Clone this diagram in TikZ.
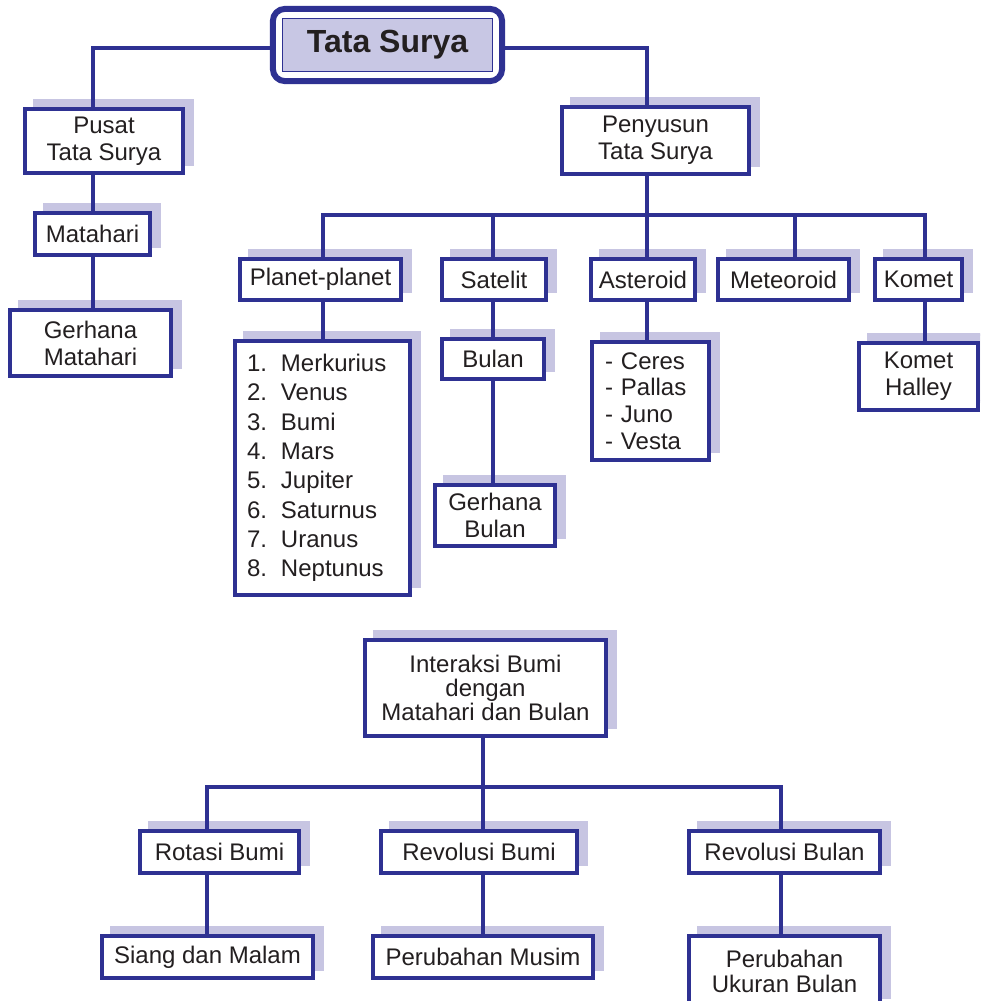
\documentclass[tikz,border=0pt]{standalone}
\usepackage{fontspec}
\setmainfont{Liberation Sans}
\usetikzlibrary{shadows,fit}
\definecolor{navy}{HTML}{2E3192}
\definecolor{shade}{HTML}{C7C5E2}
\definecolor{titlefill}{HTML}{C8C7E4}
\definecolor{ink}{HTML}{231F20}
\tikzset{
  box/.style={draw=navy, line width=4pt, fill=white, text=ink, inner sep=0pt,
    align=center, font=\fontsize{24}{27}\selectfont,
    general shadow={fill=shade, draw=shade, line width=3pt, shadow xshift=9pt, shadow yshift=9pt}},
  conn/.style={draw=navy, line width=4pt},
}
\newcommand\bxat[7][]{\node[box,#1,minimum width={#5-#3-4},minimum height={#6-#4-4}] (#2) at ({(#3+#5)/2},{(#4+#6)/2}) {#7};}
\newcommand\nm[1]{\makebox[34pt][l]{#1}}
\begin{document}
\begin{tikzpicture}[x=1pt,y=-1pt]
\useasboundingbox (0,0) rectangle (980,1001);
\clip (0,0) rectangle (980,1001);
% line positions
\coordinate (cL) at (93,0);
\coordinate (cPl) at (323,0);
\coordinate (cS) at (493,0);
\coordinate (cM) at (795,0);
\coordinate (cK) at (925,0);
\coordinate (cR) at (207,0);
\coordinate (cRB) at (781,0);
\coordinate (bus1) at (647,215);
\coordinate (bus2) at (483,787);
% title
\node[fill=titlefill, draw=navy, line width=1.2pt, minimum width=210, minimum height=53,
  inner sep=0pt, font=\fontsize{32}{36}\selectfont\bfseries, text=ink] (title) at (387.5,45) {Tata Surya};
\node[draw=navy, line width=6pt, rounded corners=12pt, fit=(title), inner sep=9pt] (frame) {};
% boxes
\bxat{pusat}{23}{107}{185}{175}{Pusat\\Tata Surya}
\bxat{matahari}{33}{211}{152}{257}{Matahari}
\bxat{gmat}{8}{308}{173}{378}{Gerhana\\Matahari}
\bxat{penyusun}{560}{105}{751}{176}{Penyusun\\Tata Surya}
\bxat{planet}{238}{257}{403}{302}{Planet-planet}
\bxat[text width=151pt, align=left, font=\fontsize{24}{29.3}\selectfont]{plist}{233}{339}{412}{597}{\nm{1.}Merkurius\\\nm{2.}Venus\\\nm{3.}Bumi\\\nm{4.}Mars\\\nm{5.}Jupiter\\\nm{6.}Saturnus\\\nm{7.}Uranus\\\nm{8.}Neptunus}
\bxat{satelit}{440}{257}{548}{302}{Satelit}
\bxat{bulan}{440}{337}{546}{381}{Bulan}
\bxat{gbulan}{433}{483}{557}{548}{Gerhana\\Bulan}
\bxat{asteroid}{589}{257}{697}{302}{Asteroid}
\bxat[text width=91pt, align=left, font=\fontsize{24}{26.7}\selectfont]{alist}{590}{340}{711}{462}{- Ceres\\- Pallas\\- Juno\\- Vesta}
\bxat{meteoroid}{716}{257}{851}{302}{Meteoroid}
\bxat{komet}{873}{257}{964}{302}{Komet}
\bxat{halley}{857}{341}{980}{412}{Komet\\Halley}
\bxat[font=\fontsize{24}{24}\selectfont]{interaksi}{363}{638}{608}{738}{Interaksi Bumi\\dengan\\Matahari dan Bulan}
\bxat{rotasi}{138}{829}{301}{875}{Rotasi Bumi}
\bxat{revbumi}{379}{829}{579}{875}{Revolusi Bumi}
\bxat{revbulan}{687}{829}{882}{875}{Revolusi Bulan}
\bxat{siang}{100}{934}{315}{980}{Siang dan Malam}
\bxat{musim}{371}{934}{595}{980}{Perubahan Musim}
\bxat[font=\fontsize{24}{25}\selectfont]{ukuran}{687}{934}{882}{1008}{Perubahan\\Ukuran Bulan}
% connectors
\draw[conn] ([yshift=-3pt]frame.west) -| (pusat.north -| cL);
\draw[conn] ([yshift=-3pt]frame.east) -| (penyusun.north -| bus1);
\draw[conn] (pusat.south -| cL) -- (matahari.north -| cL);
\draw[conn] (matahari.south -| cL) -- (gmat.north -| cL);
\draw[conn] (penyusun.south -| bus1) -- (asteroid.north -| bus1);
\draw[conn] (planet.north -| cPl) |- (bus1);
\draw[conn] (satelit.north -| cS) |- (bus1);
\draw[conn] (meteoroid.north -| cM) |- (bus1);
\draw[conn] (komet.north -| cK) |- (bus1);
\draw[conn] (planet.south -| cPl) -- (plist.north -| cPl);
\draw[conn] (satelit.south -| cS) -- (bulan.north -| cS);
\draw[conn] (bulan.south -| cS) -- (gbulan.north -| cS);
\draw[conn] (asteroid.south -| bus1) -- (alist.north -| bus1);
\draw[conn] (komet.south -| cK) -- (halley.north -| cK);
\draw[conn] (interaksi.south -| bus2) -- (revbumi.north -| bus2);
\draw[conn] (rotasi.north -| cR) |- (bus2);
\draw[conn] (revbulan.north -| cRB) |- (bus2);
\draw[conn] (rotasi.south -| cR) -- (siang.north -| cR);
\draw[conn] (revbumi.south -| bus2) -- (musim.north -| bus2);
\draw[conn] (revbulan.south -| cRB) -- (ukuran.north -| cRB);
\end{tikzpicture}
\end{document}
